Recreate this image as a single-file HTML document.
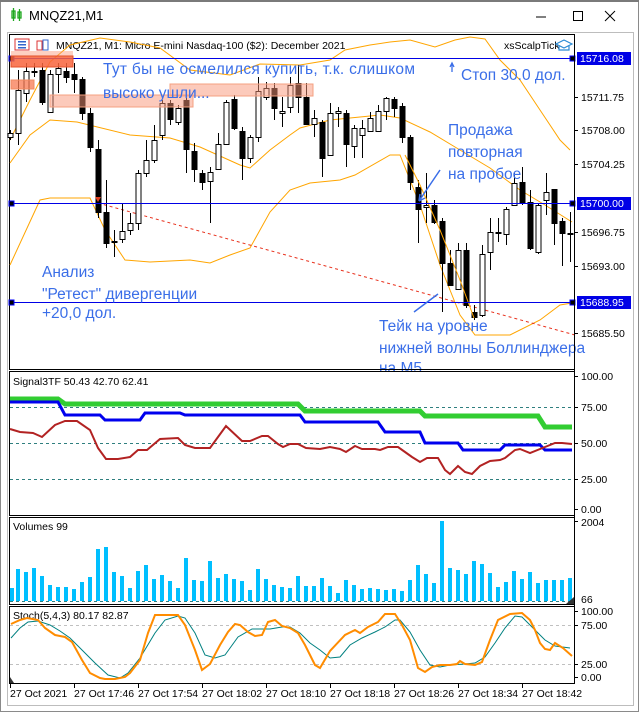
<!DOCTYPE html>
<html><head><meta charset="utf-8"><style>
html,body{margin:0;padding:0;background:#fff;}
svg{display:block;font-family:"Liberation Sans",sans-serif;}
.ax{font-size:10.5px;fill:#000;}
.ann{font-size:15.5px;fill:#3a6ee8;}
</style></head><body>
<svg id="s" width="639" height="712" viewBox="0 0 639 712" xmlns="http://www.w3.org/2000/svg">
<rect x="0" y="0" width="639" height="712" fill="#fff"/>
<rect x="0.5" y="0.5" width="638" height="711" fill="none" stroke="#8a8a8a"/>
<rect x="0" y="0" width="639" height="2" fill="#7a7a7a"/>
<g stroke="#1fa81f" fill="none" stroke-width="1.3"><rect x="12" y="11" width="3" height="7"/><line x1="13.5" y1="8" x2="13.5" y2="21"/><rect x="18" y="12" width="3" height="6"/><line x1="19.5" y1="9" x2="19.5" y2="21"/></g>
<text x="29" y="20" font-size="13" fill="#000">MNQZ21,M1</text>
<line x1="536" y1="17" x2="546" y2="17" stroke="#000"/>
<rect x="573.5" y="11.5" width="9" height="9" fill="none" stroke="#000"/>
<path d="M605 11 L615 21 M615 11 L605 21" stroke="#000"/>
<rect x="7.5" y="32.5" width="626" height="673" fill="#fff" stroke="#bdbdbd"/>
<rect x="9.5" y="34.5" width="565" height="335" fill="#fff" stroke="#000"/>
<rect x="9.5" y="371.5" width="565" height="144" fill="#fff" stroke="#000"/>
<rect x="9.5" y="517.5" width="565" height="87" fill="#fff" stroke="#000"/>
<rect x="9.5" y="606.5" width="565" height="77" fill="#fff" stroke="#000"/>
<g id="g"></g>
</svg>
<script>
var NS="http://www.w3.org/2000/svg",g=document.getElementById('g');
function el(t,a,txt){var e=document.createElementNS(NS,t);for(var k in a)e.setAttribute(k,a[k]);if(txt!==undefined)e.textContent=txt;g.appendChild(e);return e;}
function pl(pts,st,w,extra){var a={points:pts.map(function(p){return p.join(',')}).join(' '),fill:'none',stroke:st,'stroke-width':w};for(var k in extra)a[k]=extra[k];return el('polyline',a);}
el('rect',{x:15,y:39,width:14,height:11,fill:'#fff',stroke:'#d33'});
el('rect',{x:18,y:41,width:8,height:1.5,fill:'#36c'});el('rect',{x:18,y:44,width:8,height:1.5,fill:'#36c'});el('rect',{x:18,y:47,width:8,height:1.5,fill:'#36c'});
el('rect',{x:37,y:41,width:5,height:9,fill:'#fff',stroke:'#d33'});el('rect',{x:43,y:40,width:5,height:10,fill:'#fff',stroke:'#36c'});
el('text',{x:56,y:49,'font-size':'10.5',fill:'#000'},'MNQZ21, M1:  Micro E-mini Nasdaq-100 ($2): December 2021');
el('text',{x:504,y:49,'font-size':'10.5',fill:'#000'},'xsScalpTick');
el('path',{d:'M556 44 L564 40 L572 44 L564 48 Z M559 46 L559 50 L569 50 L569 46',fill:'#fff',stroke:'#2a8ad4','stroke-width':1.2});
pl([[10,140],[30,100],[50,62],[70,45],[100,38],[130,42],[160,48],[190,70],[230,75],[260,64],[300,65],[330,60],[345,50],[370,45],[390,42],[410,40],[435,47],[455,40],[470,37],[485,39],[500,60],[520,80],[540,110],[560,140],[570,150]],'#ffa500',1);
pl([[10,163],[30,135],[50,120],[77,122],[130,135],[170,138],[200,147],[240,165],[250,168],[270,150],[290,135],[300,128],[330,120],[350,118],[380,115],[400,118],[430,132],[460,150],[490,168],[520,190],[545,205],[572,222]],'#ffa500',1);
pl([[10,265],[40,200],[50,198],[90,198],[105,230],[125,260],[150,262],[190,260],[210,263],[230,255],[250,248],[270,212],[290,190],[310,183],[340,180],[355,175],[390,155],[400,155],[420,205],[440,265],[460,315],[475,335],[510,335],[540,320],[560,305],[572,303]],'#ffa500',1);
el('line',{x1:98,y1:203,x2:575,y2:335,stroke:'#e8321e','stroke-dasharray':'3,3','stroke-width':1});
var C=[[133,137,130,140,1],[90,133,70,145,1],[71,93,63,102,1],[71,71,63,77,1],[70,102,63,105,0],[74,112,70,113,1],[68,74,63,93,1],[71,77,63,83,0],[74,79,63,93,0],[79,113,77,120,0],[113,147,108,152,0],[149,212,140,218,0],[212,243,180,248,0],[241,241,230,257,1],[231,239,204,243,1],[223,230,213,235,1],[173,223,170,230,1],[160,173,140,177,1],[140,160,125,163,1],[103,135,100,140,1],[103,119,100,125,0],[108,122,105,125,1],[100,149,97,173,0],[151,169,143,182,0],[173,182,170,190,0],[172,181,167,223,1],[144,169,133,170,1],[102,144,100,145,1],[99,128,95,130,0],[131,158,127,180,0],[137,158,135,163,1],[91,137,77,142,1],[88,97,82,100,1],[88,108,83,120,0],[111,113,97,127,1],[85,107,77,113,1],[83,97,65,113,0],[97,124,83,125,0],[118,124,110,137,1],[122,158,120,177,0],[113,155,103,156,1],[111,113,107,127,1],[113,144,110,167,0],[128,146,125,158,1],[128,135,120,158,1],[118,131,112,132,1],[111,131,105,132,1],[98,111,97,120,1],[99,108,97,117,0],[106,137,103,143,0],[137,182,135,190,0],[187,209,180,243,0],[205,207,173,223,1],[205,222,200,224,0],[221,263,218,312,0],[263,285,250,285,0],[250,289,243,290,1],[250,305,243,308,0],[312,317,305,320,0],[254,315,245,317,1],[232,252,218,270,1],[232,232,218,242,1],[209,234,207,245,1],[183,205,173,206,1],[182,202,167,205,0],[202,248,190,250,0],[205,252,203,254,1],[192,200,173,215,1],[189,223,189,245,0],[221,233,218,266,0],[233,233,212,262,1]];
C.forEach(function(c,k){var x=10+8*k;el('line',{x1:x+.5,y1:c[2],x2:x+.5,y2:c[3],stroke:'#000'});
 var h=Math.max(1,c[1]-c[0]);el('rect',{x:x-2,y:c[0]+.5,width:5,height:h,fill:c[4]?'#fff':'#000',stroke:'#000'});});
pl([[405,155],[420,185],[440,230],[460,280],[474,318]],'#ffa500',1);
[58,203,302].forEach(function(y){el('line',{x1:10,y1:y+.5,x2:574,y2:y+.5,stroke:'#0000e6'});el('rect',{x:9,y:y-2,width:5,height:5,fill:'#000',stroke:'#00f'});el('rect',{x:570,y:y-2,width:5,height:5,fill:'#000',stroke:'#00f'});});
el('rect',{x:11,y:51,width:62,height:5,fill:'rgba(250,150,120,0.45)'});
el('rect',{x:11,y:56,width:62,height:11,fill:'rgba(248,100,60,0.85)',stroke:'#e4502a'});
el('rect',{x:11,y:80,width:23,height:9,fill:'rgba(248,120,80,0.75)',stroke:'#f08a60'});
el('rect',{x:50,y:95,width:143,height:12,fill:'rgba(250,150,120,0.5)',stroke:'#f5a080'});
el('rect',{x:170,y:84,width:143,height:12,fill:'rgba(250,150,120,0.5)',stroke:'#f5a080'});
el('text',{x:103,y:74,class:'ann',textLength:312,lengthAdjust:'spacing'},'Тут бы не осмелился купить, т.к. слишком');
el('text',{x:103,y:98,class:'ann'},'высоко ушли...');
el('text',{x:461,y:80,class:'ann'},'Стоп 30.0 дол.');
el('text',{x:448,y:135,class:'ann'},'Продажа');
el('text',{x:448,y:157,class:'ann'},'повторная');
el('text',{x:448,y:179,class:'ann'},'на пробое');
el('text',{x:42,y:277,class:'ann'},'Анализ');
el('text',{x:42,y:299,class:'ann'},'"Ретест" дивергенции');
el('text',{x:42,y:318,class:'ann'},'+20,0 дол.');
el('text',{x:379,y:331,class:'ann'},'Тейк на уровне');
el('text',{x:379,y:353,class:'ann'},'нижней волны Боллинджера');
el('rect',{x:370,y:355,width:120,height:14,fill:'#fff'});
el('text',{x:379,y:373,class:'ann'},'на М5');
el('line',{x1:10,y1:369.5,x2:575,y2:369.5,stroke:'#000'});
el('rect',{x:10,y:371,width:564,height:4,fill:'#fff'});
el('line',{x1:10,y1:371.5,x2:575,y2:371.5,stroke:'#000'});
el('path',{d:'M452 72 L452 64 M450 67 L452 63 L454 67',stroke:'#3a6ee8',fill:'none','stroke-width':1.3});
el('path',{d:'M440 170 L419 201 M419 201 L420 194 M419 201 L425 198',stroke:'#3a6ee8',fill:'none','stroke-width':1.5});
el('path',{d:'M438 294 L414 312',stroke:'#3a6ee8',fill:'none','stroke-width':1.5});
el('path',{d:'M95 197 L101 197 L98 202 Z',fill:'#e04020'});
el('line',{x1:574.5,y1:35,x2:574.5,y2:684,stroke:'#000'});
[[97,'15711.75'],[130,'15708.00'],[164,'15704.25'],[232,'15696.75'],[266,'15693.00'],[333,'15685.50']].forEach(function(a){el('line',{x1:574,y1:a[0]+.5,x2:578,y2:a[0]+.5,stroke:'#000'});el('text',{x:581,y:a[0]+4,class:'ax'},a[1]);});
[[58,'15716.08'],[203,'15700.00'],[302,'15688.95']].forEach(function(a){el('rect',{x:577,y:a[0]-6,width:54,height:13,fill:'#0000e6'});el('text',{x:580,y:a[0]+4,class:'ax',style:'fill:#fff'},a[1]);});
el('text',{x:13,y:385,'font-size':'10.5'},'Signal3TF 50.43 42.70 62.41');
[407,443,479].forEach(function(y){el('line',{x1:10,y1:y+.5,x2:574,y2:y+.5,stroke:'#2f7f7f','stroke-dasharray':'3,3'});});
[[376,'100.00'],[407,'75.00'],[443,'50.00'],[479,'25.00'],[509,'0.00']].forEach(function(a){el('line',{x1:574,y1:a[0]+.5,x2:578,y2:a[0]+.5,stroke:'#000'});el('text',{x:581,y:a[0]+4,class:'ax'},a[1]);});
pl([[10,399],[58,399],[65,404],[298,404],[305,411],[420,411],[425,416],[538,416],[545,427],[572,427]],'#32cd32',5);
pl([[10,402],[58,402],[65,415],[100,415],[105,420],[140,420],[145,413],[180,413],[185,415],[300,415],[305,422],[378,422],[385,432],[420,432],[425,443],[458,443],[463,450],[500,450],[505,445],[540,445],[545,450],[572,450]],'#0000ee',3);
pl([[10,429],[20,432],[33,433],[42,437],[55,425],[65,421],[77,421],[90,430],[98,448],[106,459],[118,459],[130,457],[138,450],[147,450],[160,439],[178,438],[185,445],[195,448],[210,448],[226,426],[242,441],[250,441],[262,436],[268,436],[278,444],[283,447],[290,444],[298,444],[306,448],[320,449],[330,447],[340,449],[346,452],[355,446],[362,449],[375,449],[380,450],[388,447],[398,447],[405,452],[412,457],[420,462],[427,458],[438,458],[445,470],[450,474],[458,466],[465,472],[472,474],[480,466],[490,461],[500,460],[505,458],[515,450],[520,449],[530,453],[545,447],[555,443],[562,443],[572,444]],'#b22222',2);
el('text',{x:13,y:530,'font-size':'10.5'},'Volumes 99');
var V=[588,569,572,568,576,585,587,587,589,582,577,549,547,572,576,588,571,565,579,575,581,588,558,580,581,561,578,574,579,581,590,569,579,585,587,588,576,586,586,578,586,593,580,585,589,588,589,590,589,591,580,565,574,583,521,568,570,574,561,564,573,587,582,571,579,572,583,580,580,580,578];
V.forEach(function(v,k){var x=10+8*k-2;if(x<10)x=10;el('rect',{x:x,y:v,width:4,height:601-v,fill:'#00bfff'});});
el('line',{x1:10,y1:601.5,x2:574,y2:601.5,stroke:'#2f7f7f','stroke-dasharray':'3,3'});
el('line',{x1:574,y1:521.5,x2:578,y2:521.5,stroke:'#000'});
el('text',{x:581,y:526,class:'ax'},'2004');el('text',{x:581,y:603,class:'ax'},'66');
el('path',{d:'M566 604 L574 597 L574 604 Z',fill:'#333'});
el('text',{x:13,y:619,'font-size':'10.5'},'Stoch(5,4,3) 80.17 82.87');
[625,664].forEach(function(y){el('line',{x1:10,y1:y+.5,x2:574,y2:y+.5,stroke:'#c0c0c0','stroke-dasharray':'3,3'});});
[[611,'100.00'],[625,'75.00'],[664,'25.00'],[677,'0.00']].forEach(function(a){el('line',{x1:574,y1:a[0]+.5,x2:578,y2:a[0]+.5,stroke:'#000'});el('text',{x:581,y:a[0]+4,class:'ax'},a[1]);});
pl([[11,638],[20,628],[28,622],[38,621],[50,625],[60,631],[70,638],[80,648],[95,663],[108,675],[120,678],[128,673],[140,658],[155,633],[165,620],[178,616],[185,618],[195,633],[205,655],[215,658],[225,655],[238,637],[252,629],[270,629],[282,627],[290,627],[300,633],[310,643],[320,650],[330,658],[340,657],[350,645],[362,638],[375,632],[385,627],[395,620],[400,620],[410,632],[420,650],[430,665],[440,667],[450,665],[465,664],[475,663],[485,657],[495,643],[505,628],[515,616],[522,617],[535,630],[545,640],[555,646],[570,648]],'#008080',1);
pl([[11,624],[20,620],[27,618],[38,620],[45,628],[55,635],[60,636],[65,637],[72,642],[82,660],[90,673],[100,678],[105,679],[115,679],[125,677],[130,673],[140,660],[148,633],[155,615],[165,615],[178,615],[185,625],[195,650],[202,670],[210,664],[220,645],[228,632],[235,624],[240,625],[248,632],[255,636],[262,635],[268,622],[275,620],[282,626],[290,628],[298,633],[305,645],[315,665],[320,668],[330,651],[345,635],[355,630],[360,633],[368,627],[378,622],[385,614],[395,614],[402,625],[410,640],[418,668],[425,672],[432,667],[440,665],[450,665],[457,664],[460,661],[465,664],[475,665],[482,662],[490,640],[498,620],[510,614],[522,613],[530,620],[535,630],[540,643],[545,649],[550,650],[555,643],[563,648],[572,656]],'#ff8c00',2);
el('path',{d:'M10 677 L14 683 L10 683 Z',fill:'#333'});
el('line',{x1:10,y1:683.5,x2:575,y2:683.5,stroke:'#000'});
[[10,'27 Oct 2021'],[74,'27 Oct 17:46'],[138,'27 Oct 17:54'],[202,'27 Oct 18:02'],[266,'27 Oct 18:10'],[330,'27 Oct 18:18'],[394,'27 Oct 18:26'],[458,'27 Oct 18:34'],[522,'27 Oct 18:42']].forEach(function(a){el('line',{x1:a[0]+.5,y1:683,x2:a[0]+.5,y2:688,stroke:'#000'});el('text',{x:a[0],y:697,class:'ax'},a[1]);});
</script>
</body></html>
